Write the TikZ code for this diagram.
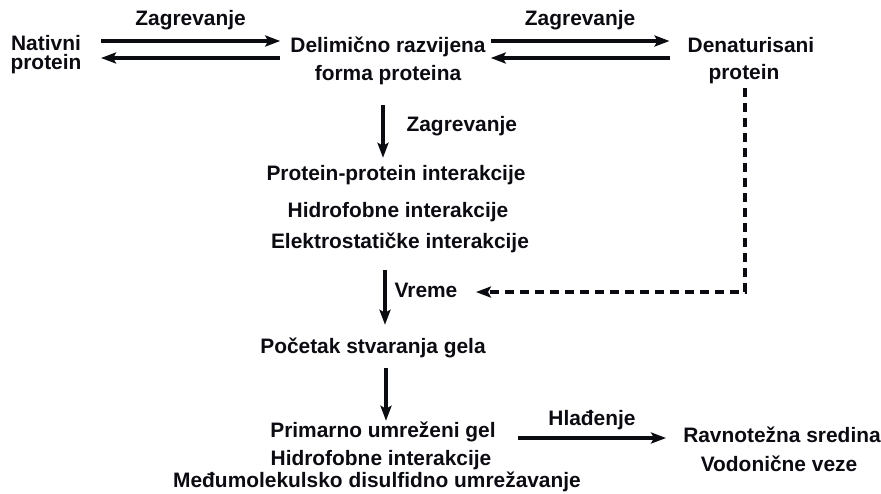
\documentclass[tikz,border=0pt]{standalone}
\usepackage{fontspec}
\setmainfont{Liberation Sans}
\usepackage{tikz}
\usetikzlibrary{arrows.meta, positioning}
\usepackage{xcolor}
\definecolor{Ink}{HTML}{0B0B12}

\begin{document}
\begin{tikzpicture}[x=1pt, y=-1pt,
    txt/.style={inner sep=0pt, text height=15pt, text depth=5pt,
                font=\fontsize{20.9}{24}\selectfont\bfseries, text=Ink},
    fwd/.style={-{Stealth[length=15pt, width=11pt, inset=3pt]}, line width=3.2pt, Ink},
    dsh/.style={fwd, dash pattern=on 9pt off 6pt}]
  \useasboundingbox (0,0) rectangle (881,493);

  % Top row
  \node[txt] (nat)  at (46,45)  {Nativni};
  \node[txt] (natb) at (46,64)  {protein};
  \node[txt] (del)  at (388,47) {Delimično razvijena};
  \node[txt] (delb) at (388,75) {forma proteina};
  \node[txt] (den)  at (751,47) {Denaturisani};
  \node[txt] (denb) at (744,74) {protein};

  % Interactions
  \node[txt] (pp)  at (396,175) {Protein-protein interakcije};
  \node[txt] (hf)  at (398,212) {Hidrofobne interakcije};
  \node[txt] (es)  at (400,243) {Elektrostatičke interakcije};

  % Gel
  \node[txt] (poc) at (373,348) {Početak stvaranja gela};
  \node[txt] (pug) at (383,432) {Primarno umreženi gel};
  \node[txt] (hfb) at (381,460) {Hidrofobne interakcije};
  \node[txt] (mdu) at (377,482) {Međumolekulsko disulfidno umrežavanje};
  \node[txt] (rav) at (782,437) {Ravnotežna sredina};
  \node[txt] (vod) at (779,466) {Vodonične veze};

  % Reversible steps
  \draw[fwd] ([xshift=20pt, yshift=4pt]nat.east) --
    node[txt, midway, above=9pt] (zag1) {Zagrevanje}
    ([xshift=-10pt, yshift=6pt]del.west);
  \draw[fwd] ([xshift=-10pt, yshift=-11pt]del.west) -- ([xshift=20pt, yshift=-13pt]nat.east);
  \draw[fwd] ([xshift=5pt, yshift=6pt]del.east) --
    node[txt, midway, above=9pt] (zag2) {Zagrevanje}
    ([xshift=-18pt, yshift=6pt]den.west);
  \draw[fwd] ([xshift=-18pt, yshift=-11pt]den.west) -- ([xshift=5pt, yshift=-11pt]del.east);

  % Downward steps
  \draw[fwd] ([xshift=-5pt, yshift=-20pt]delb.south) --
    node[txt, pos=0.4, right=22pt] (zag3) {Zagrevanje}
    ([xshift=-13pt, yshift=7pt]pp.north);
  \draw[fwd] ([xshift=-15pt, yshift=-17pt]es.south) --
    node[txt, pos=0.4, right=8pt] (vreme) {Vreme}
    ([xshift=12pt, yshift=13pt]poc.north);
  \draw[fwd] ([xshift=13pt, yshift=-10pt]poc.south) -- ([xshift=3pt, yshift=1pt]pug.north);

  % Denatured protein joins
  \draw[dsh] ([xshift=1pt, yshift=-4pt]denb.south) |- ([xshift=17pt]vreme.east);

  % Cooling
  \draw[fwd] ([xshift=22pt, yshift=-6pt]pug.east) --
    node[txt, midway, above=6pt] (hla) {Hlađenje}
    ([xshift=-17pt, yshift=-1pt]rav.west);
\end{tikzpicture}
\end{document}
